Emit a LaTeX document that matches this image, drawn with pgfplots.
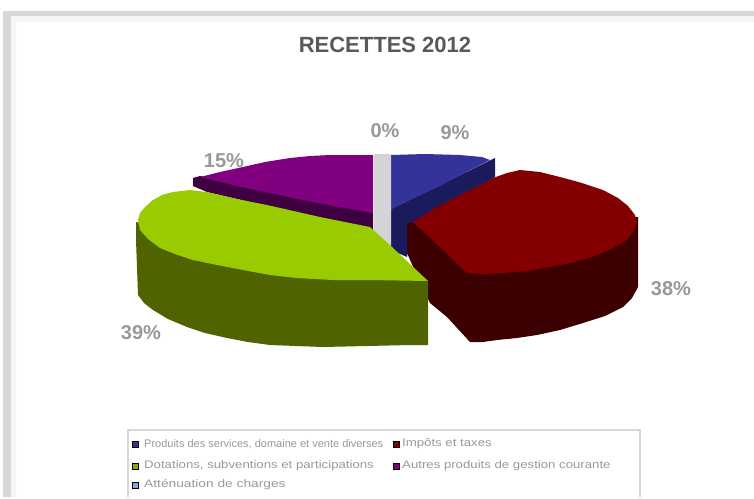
\documentclass[border=0pt]{standalone}
\usepackage{pgfplots}
\pgfplotsset{compat=1.18}
\usepackage{fontspec}
\setmainfont{Liberation Sans}
\definecolor{bluetop}{HTML}{333399}
\definecolor{blueside}{HTML}{1A1A5C}
\definecolor{redtop}{HTML}{840000}
\definecolor{redside}{HTML}{3C0000}
\definecolor{greentop}{HTML}{99CC00}
\definecolor{greenside}{HTML}{4F6400}
\definecolor{purpletop}{HTML}{800080}
\definecolor{purpleside}{HTML}{3E0040}
\definecolor{sliver}{HTML}{D4D4D6}
\definecolor{framegray}{HTML}{D8D8D8}
\definecolor{txt}{HTML}{999999}
\begin{document}
\begin{tikzpicture}
\begin{axis}[
  scale only axis,
  width=754pt,
  height=497pt,
  xmin=0, xmax=754,
  ymin=0, ymax=497,
  y dir=reverse,
  axis lines=none,
  clip=false,
]
% page background, keeps the whole 754x497 in the picture
\addplot[draw=none, fill=white] coordinates {(0,0) (754,0) (754,497) (0,497)} --cycle;
% frame of the screenshot
\addplot[draw=none, fill=framegray] coordinates {(3,11) (754,11) (754,16) (11,16) (11,497) (3,497)} --cycle;
\addplot[draw=none, fill=black!4] coordinates {(11,16) (754,16) (754,22) (16,22) (16,497) (11,497)} --cycle;
% blue slice
\addplot[draw=none, fill=blueside] coordinates {(391,209) (495,158) (495,177) (412,225) (407,257) (391,250)} --cycle;
\addplot[draw=none, fill=bluetop] coordinates {(391,155) (425,154) (460,155) (482,157) (490,160) (470,170) (440,186) (410,200) (391,209)} --cycle;
% empty slice
\addplot[draw=none, fill=sliver] coordinates {(374,154) (391,154) (391,252) (374,232)} --cycle;
% purple slice
\addplot[draw=none, fill=purpleside] coordinates {(193,178) (200,176) (373,212) (373,232) (320,218) (267,206) (207,192) (193,186)} --cycle;
\addplot[draw=none, fill=purpletop] coordinates {(373,155) (350,155) (330,155) (310,156) (290,158) (265,162) (243,167) (220,172) (200,177) (237,186) (317,203) (373,213)} --cycle;
% red slice
\addplot[draw=none, fill=redside] coordinates {(407,223) (638,217) (638,287) (632,298) (623,307) (605,316) (583,323) (560,330) (537,335) (517,338) (497,340) (483,342) (470,342) (458,329) (447,317) (430,303) (418,278) (407,253)} --cycle;
\addplot[draw=none, fill=redtop] coordinates {(413,222) (430,211) (450,200) (472,189) (493,178) (507,173) (520,170) (540,172) (560,177) (582,183) (603,190) (618,198) (628,206) (635,215) (637,223) (633,232) (627,240) (613,248) (597,255) (575,262) (550,267) (527,271) (503,273) (485,274) (467,273) (455,262) (443,250)} --cycle;
% green slice
\addplot[draw=none, fill=greenside] coordinates {(136,222) (428,280) (428,345) (410,345) (367,346) (323,347) (296,346) (270,345) (248,342) (227,338) (205,333) (187,327) (168,319) (153,310) (144,303) (138,295) (136,240)} --cycle;
\addplot[draw=none, fill=greentop] coordinates {(138,220) (140,213) (145,207) (153,200) (162,195) (173,192) (190,190) (207,192) (237,199) (267,205) (320,217) (370,227) (392,247) (428,281) (370,280) (333,280) (297,278) (270,275) (243,270) (217,265) (193,260) (175,254) (160,248) (148,239) (140,230)} --cycle;
% legend box
\addplot[framegray, line width=2pt] coordinates {(128,497) (128,430) (640,430) (640,497)};
% legend swatches
\addplot[only marks, mark=square*, mark size=3pt, mark options={draw=none, fill=bluetop}] coordinates {(135,444)};
\addplot[only marks, mark=square*, mark size=3pt, mark options={draw=none, fill=redtop}] coordinates {(396,444)};
\addplot[only marks, mark=square*, mark size=3pt, mark options={draw=none, fill=greentop!85!black}] coordinates {(135,466)};
\addplot[only marks, mark=square*, mark size=3pt, mark options={draw=none, fill=purpletop}] coordinates {(396,466)};
\addplot[only marks, mark=square*, mark size=3pt, mark options={draw=none, fill=cyan!50!blue!50}] coordinates {(135,485)};
% texts
\node[text=black!65, font=\bfseries\fontsize{22}{22}\selectfont] at (axis cs:385,45) {RECETTES 2012};
\node[text=txt, font=\bfseries\fontsize{20}{20}\selectfont] at (axis cs:385,131) {0\%};
\node[text=txt, font=\bfseries\fontsize{20}{20}\selectfont] at (axis cs:455,133) {9\%};
\node[text=txt, font=\bfseries\fontsize{20}{20}\selectfont] at (axis cs:671,289) {38\%};
\node[text=txt, font=\bfseries\fontsize{20}{20}\selectfont] at (axis cs:141,333) {39\%};
\node[text=txt, font=\bfseries\fontsize{20}{20}\selectfont] at (axis cs:224,161) {15\%};
\node[text=txt, anchor=west, inner sep=0pt, font=\fontsize{11}{11}\selectfont] at (axis cs:144,444) {Produits des services, domaine et vente diverses};
\node[text=txt, anchor=west, inner sep=0pt, font=\fontsize{11}{11}\selectfont] at (axis cs:402,444) {\scalebox{1.2}[1]{Impôts et taxes}};
\node[text=txt, anchor=west, inner sep=0pt, font=\fontsize{11}{11}\selectfont] at (axis cs:144,466) {\scalebox{1.2}[1]{Dotations, subventions et participations}};
\node[text=txt, anchor=west, inner sep=0pt, font=\fontsize{11}{11}\selectfont] at (axis cs:402,466) {\scalebox{1.2}[1]{Autres produits de gestion courante}};
\node[text=txt, anchor=west, inner sep=0pt, font=\fontsize{11}{11}\selectfont] at (axis cs:144,485) {\scalebox{1.25}[1]{Atténuation de charges}};
\end{axis}
\end{tikzpicture}
\end{document}
